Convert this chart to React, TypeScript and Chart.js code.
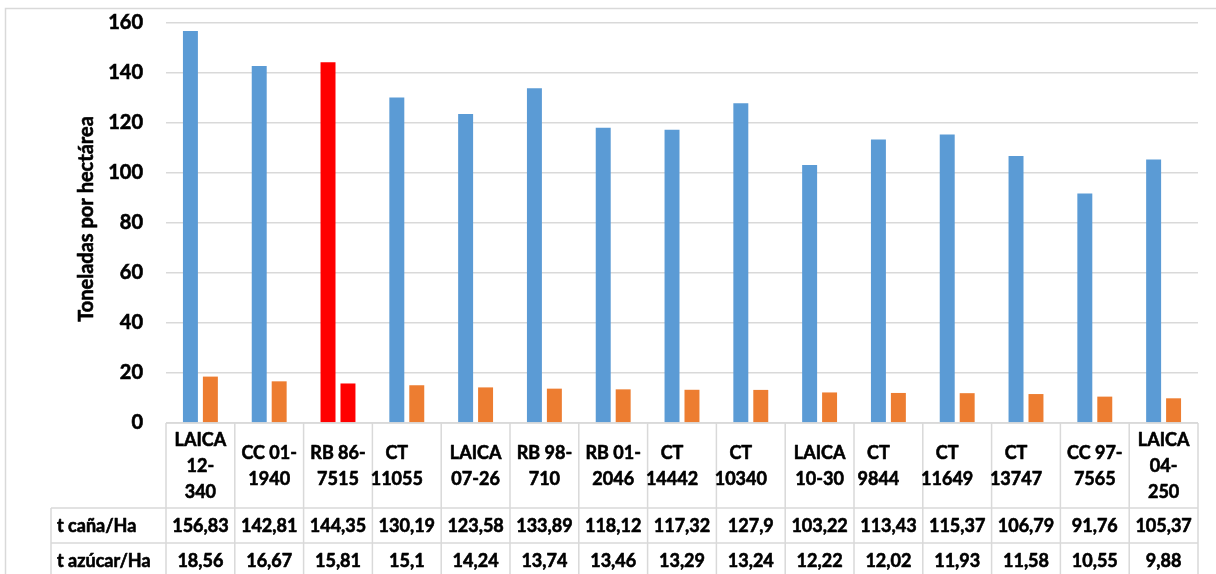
import React, { useEffect, useRef } from "react";
import { Chart, registerables } from "chart.js";

Chart.register(...registerables);

const categories: string[][] = [
  ["LAICA", "12-", "340"],
  ["CC 01-", "1940"],
  ["RB 86-", "7515"],
  ["CT", "11055"],
  ["LAICA", "07-26"],
  ["RB 98-", "710"],
  ["RB 01-", "2046"],
  ["CT", "14442"],
  ["CT", "10340"],
  ["LAICA", "10-30"],
  ["CT", "9844"],
  ["CT", "11649"],
  ["CT", "13747"],
  ["CC 97-", "7565"],
  ["LAICA", "04-", "250"],
];

const canaLabel = "t caña/Ha";
const azucarLabel = "t azúcar/Ha";
const canaValues = [156.83, 142.81, 144.35, 130.19, 123.58, 133.89, 118.12, 117.32, 127.9, 103.22, 113.43, 115.37, 106.79, 91.76, 105.37];
const azucarValues = [18.56, 16.67, 15.81, 15.1, 14.24, 13.74, 13.46, 13.29, 13.24, 12.22, 12.02, 11.93, 11.58, 10.55, 9.88];
const highlightIndex = 2;
const yTitle = "Toneladas por hectárea";
const yMin = 0;
const yMax = 160;
const yStep = 20;

const BLUE = "#5b9bd5";
const ORANGE = "#ed7d31";
const RED = "#ff0000";
const GRID = "#d9d9d9";
const FONT = "Lato, 'Noto Sans', sans-serif";
const STROKE = 0.6;

const fmt = (v: number) => String(v).replace(".", ",");

const tablePlugin = {
  id: "dataTable",
  afterDraw(chart: any) {
    const ctx = chart.ctx as CanvasRenderingContext2D;
    const area = chart.chartArea;
    const x = chart.scales.x;
    const n = categories.length;
    const colW = (area.right - area.left) / n;
    const top = area.bottom;
    const row1 = top + 85;
    const row2 = row1 + 35;
    const bottom = chart.height + 10;
    const headerLeft = 51;

    ctx.save();
    ctx.strokeStyle = GRID;
    ctx.lineWidth = 1.5;
    ctx.strokeRect(5.5, 8.5, chart.width + 20, chart.height + 20);

    ctx.beginPath();
    ctx.moveTo(area.left, top);
    ctx.lineTo(area.right, top);
    ctx.moveTo(headerLeft, row1);
    ctx.lineTo(area.right, row1);
    ctx.moveTo(headerLeft, row2);
    ctx.lineTo(area.right, row2);
    for (let i = 0; i <= n; i++) {
      const xx = area.left + i * colW;
      ctx.moveTo(xx, top);
      ctx.lineTo(xx, bottom);
    }
    ctx.moveTo(headerLeft, row1);
    ctx.lineTo(headerLeft, bottom);
    ctx.stroke();

    ctx.fillStyle = "#000";
    ctx.strokeStyle = "#000";
    ctx.lineWidth = STROKE;
    ctx.lineJoin = "round";
    const text = (s: string, tx: number, ty: number) => {
      ctx.fillText(s, tx, ty);
      ctx.strokeText(s, tx, ty);
    };
    ctx.font = `bold 18px ${FONT}`;
    ctx.textBaseline = "middle";
    ctx.textAlign = "center";
    const lh = 26;
    const midCat = (top + row1) / 2;
    for (let i = 0; i < n; i++) {
      const cx = x.getPixelForValue(i);
      const lines = categories[i];
      const shift = lines[0] === "CT" ? -10 : 0;
      const startY = midCat - ((lines.length - 1) * lh) / 2;
      lines.forEach((ln, k) => text(ln, cx + shift, startY + k * lh + 1));
      text(fmt(canaValues[i]), cx, (row1 + row2) / 2 + 1);
      text(fmt(azucarValues[i]), cx, row2 + 18);
    }
    ctx.textAlign = "left";
    text(canaLabel, 57, (row1 + row2) / 2 + 1);
    text(azucarLabel, 57, row2 + 18);

    ctx.save();
    ctx.translate(87, 219);
    ctx.rotate(-Math.PI / 2);
    ctx.textAlign = "center";
    ctx.font = `bold 20px ${FONT}`;
    text(yTitle, 0, 0);
    ctx.restore();
    ctx.restore();
  },
};

export default function App() {
  const ref = useRef<HTMLCanvasElement>(null);
  useEffect(() => {
    document.body.style.margin = "0";
    const canvas = ref.current!;
    const canaColors = canaValues.map((_, i) => (i === highlightIndex ? RED : BLUE));
    const azucarColors = azucarValues.map((_, i) => (i === highlightIndex ? RED : ORANGE));
    const chart = new Chart(canvas, {
      type: "bar",
      data: {
        labels: categories.map((c) => c.join(" ")),
        datasets: [
          { label: canaLabel, data: canaValues, backgroundColor: canaColors, categoryPercentage: 0.58, barPercentage: 0.75 },
          { label: azucarLabel, data: azucarValues, backgroundColor: azucarColors, categoryPercentage: 0.58, barPercentage: 0.75 },
        ],
      },
      options: {
        responsive: false,
        animation: false,
        layout: { padding: { top: 23, right: 18, bottom: 151, left: 0 } },
        plugins: { legend: { display: false }, tooltip: { enabled: false } },
        scales: {
          x: { display: false, offset: true },
          y: {
            min: yMin,
            max: yMax,
            ticks: {
              stepSize: yStep,
              color: "#000",
              font: { family: FONT, size: 20, weight: "bold" },
              padding: 23,
              textStrokeColor: "#000",
              textStrokeWidth: STROKE,
            },
            grid: { color: GRID, lineWidth: 1.5, drawTicks: false },
            border: { display: false },
            afterFit: (s: any) => {
              s.width = 166;
              s.paddingTop = 0;
              s.paddingBottom = 0;
            },
          },
        },
      },
      plugins: [tablePlugin],
    });
    return () => chart.destroy();
  }, []);
  return <canvas ref={ref} width={1216} height={574} style={{ display: "block", width: 1216, height: 574 }} />;
}
